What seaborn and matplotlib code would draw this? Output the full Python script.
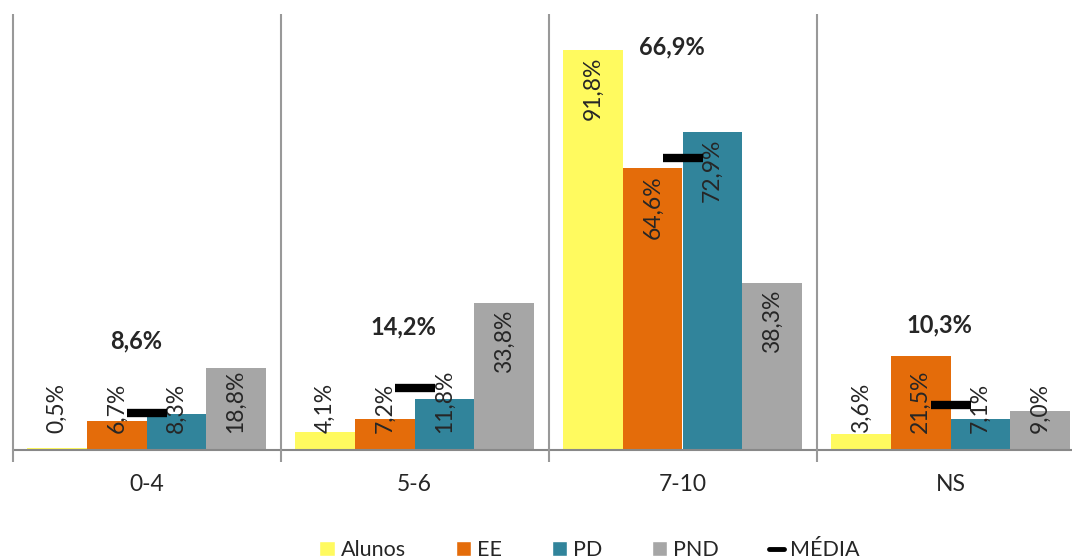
import numpy as np
import pandas as pd
import seaborn as sns
import matplotlib.pyplot as plt
from matplotlib.lines import Line2D
from matplotlib.patches import Patch

# data
groups = ["0-4", "5-6", "7-10", "NS"]
series = ["Alunos", "EE", "PD", "PND"]
alunos = [0.5, 4.1, 91.8, 3.6]
ee = [6.7, 7.2, 64.6, 21.5]
pd_vals = [8.3, 11.8, 72.9, 7.1]
pnd = [18.8, 33.8, 38.3, 9.0]
media = [8.6, 14.2, 66.9, 10.3]
media_label_y = [25.0, 28.2, 92.5, 28.7]
colors = ["#FFFA5F", "#E46C0A", "#31849B", "#A6A6A6"]

sns.set_style("white")
plt.rcParams['font.family'] = ['Lato', 'DejaVu Sans']

df = pd.DataFrame({
    "grupo": groups * 4,
    "serie": np.repeat(series, 4),
    "valor": alunos + ee + pd_vals + pnd,
})

fig = plt.figure(figsize=(10.72, 5.59), dpi=100)
ax = fig.add_axes([12.5 / 1072, 109 / 559, 1072 / 1072, 436 / 559])

sns.barplot(data=df, x="grupo", y="valor", hue="serie", palette=colors,
            width=0.89, gap=0, saturation=1, ax=ax, legend=False,
            edgecolor="none", errorbar=None)

ax.set_ylim(0, 100)
ax.set_xlim(-0.5, 3.5)
for s in ax.spines.values():
    s.set_visible(False)
ax.set_yticks([])
ax.set_xlabel("")
ax.set_ylabel("")
ax.tick_params(axis="x", length=0, labelsize=16.5, pad=17)

# baseline and group separators
ax.axhline(0, color="#888888", lw=1.5, clip_on=False)
ax.vlines(np.arange(-0.5, 4.0, 1.0), -2.8, 100, color="#999999", lw=1.5,
          clip_on=False)

# value labels inside bars
for cont in ax.containers:
    for bar in cont:
        v = bar.get_height()
        x = bar.get_x() + bar.get_width() / 2
        txt = f"{v:.1f}%".replace(".", ",")
        if v > 25:
            ax.text(x, v - 1.5, txt, rotation=90, ha="center", va="top",
                    fontsize=16.5)
        else:
            ax.text(x, 3.9, txt, rotation=90, ha="center", va="bottom",
                    fontsize=16.5)

# média markers
xs = np.arange(len(groups))
ax.plot(xs, media, linestyle="none", marker="_", markersize=29,
        markeredgewidth=6, color="black", zorder=5)
for x, m, ly in zip(xs, media, media_label_y):
    ax.text(x - 0.04, ly, f"{m:.1f}%".replace(".", ","), ha="center",
            va="center", fontsize=17, fontweight="bold")

handles = [Patch(facecolor=c, label=s) for c, s in zip(colors, series)]
handles.append(Line2D([], [], color="black", lw=3.5, label="MÉDIA"))
fig.legend(handles=handles, loc="lower center", bbox_to_anchor=(0.55, -0.037),
           ncol=5, frameon=False, fontsize=15.5, handlelength=0.7,
           handleheight=0.7, handletextpad=0.3, columnspacing=2.3)

fig.savefig("out.png", dpi=100)
